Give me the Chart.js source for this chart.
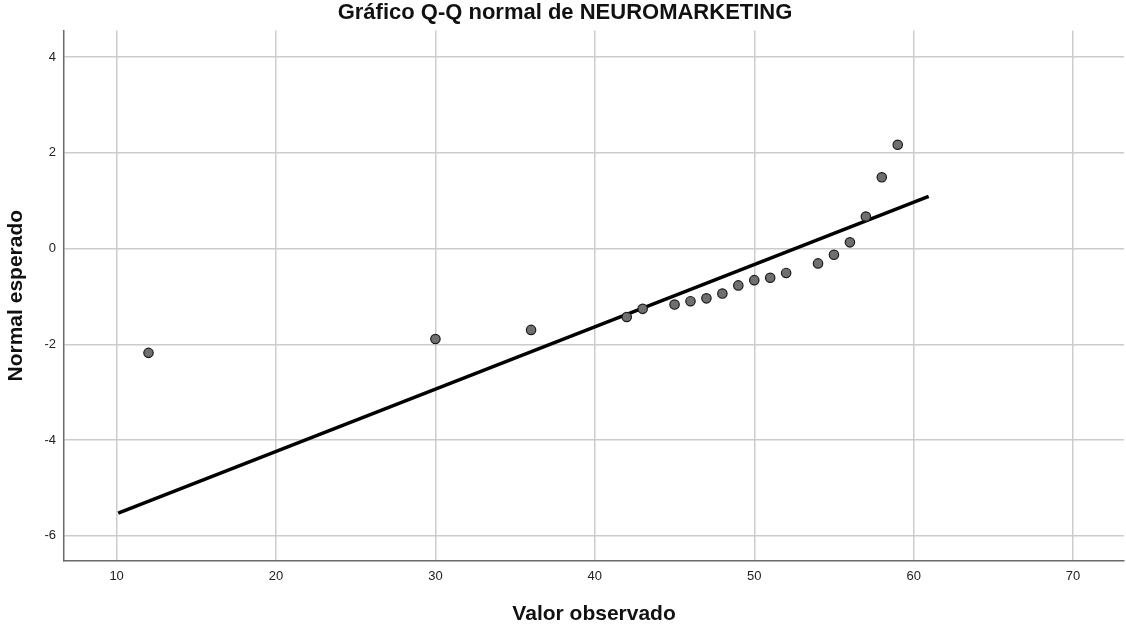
<!DOCTYPE html>
<html lang="es">
<head>
    <meta charset="UTF-8">
    <title>Gráfico Q-Q normal de NEUROMARKETING</title>
    <script src="https://cdn.jsdelivr.net/npm/chart.js"></script>
    <style>
        body {
            margin: 0;
            padding: 0;
            overflow: hidden;
            background-color: #ffffff;
        }

        #qqChart {
            display: block;
        }
    </style>
</head>

<body>
    <!-- a bit wider than the window: chart.js keeps a few px free on the right -->
    <canvas id="qqChart" width="1130" height="628"></canvas>

    <script>
        // Observed values and their expected normal quantiles
        const observed = [12, 30, 36, 42, 43, 45, 46, 47, 48, 49, 50, 51, 52, 54, 55, 56, 57, 58, 59];
        const expectedNormal = [-2.18, -1.89, -1.70, -1.43, -1.26, -1.17, -1.10, -1.04, -0.94, -0.77,
            -0.66, -0.61, -0.51, -0.31, -0.13, 0.13, 0.67, 1.49, 2.17];

        // Reference line end points
        const lineX = [10.1, 60.94];
        const lineY = [-5.53, 1.09];

        // Tick values
        const xTicks = [10, 20, 30, 40, 50, 60, 70];
        const yTicks = [-6, -4, -2, 0, 2, 4];

        const points = observed.map((v, i) => ({ x: v, y: expectedNormal[i] }));
        const refLine = lineX.map((v, i) => ({ x: v, y: lineY[i] }));

        const fontFamily = '"Liberation Sans", Arial, sans-serif';

        const ctx = document.getElementById('qqChart').getContext('2d');
        const chart = new Chart(ctx, {
            type: 'scatter',
            data: {
                datasets: [{
                    label: 'Observado',
                    data: points,
                    order: 0,
                    pointRadius: 4.7,
                    pointBackgroundColor: '#6f6f6f',
                    pointBorderColor: '#1a1a1a',
                    pointBorderWidth: 1.2
                },
                {
                    type: 'line',
                    label: 'Referencia',
                    data: refLine,
                    order: 1,
                    borderColor: '#000000',
                    borderWidth: 3.5,
                    pointRadius: 0,
                    fill: false
                }]
            },
            options: {
                responsive: false,
                devicePixelRatio: 1,
                animation: false,
                layout: {
                    padding: { left: 0, right: 0, top: 0, bottom: 0 }
                },
                plugins: {
                    legend: { display: false },
                    tooltip: { enabled: false },
                    title: {
                        display: true,
                        text: 'Gráfico Q-Q normal de NEUROMARKETING',
                        color: '#111111',
                        font: { family: fontFamily, size: 22, weight: 'bold' },
                        padding: { top: 0, bottom: 4 }
                    }
                },
                scales: {
                    x: {
                        type: 'linear',
                        min: 6.7,
                        max: 73.2,
                        afterBuildTicks: (scale) => {
                            scale.ticks = xTicks.map(v => ({ value: v }));
                        },
                        afterFit: (scale) => {
                            scale.height = 67;
                        },
                        ticks: {
                            color: '#222222',
                            padding: 8,
                            font: { family: fontFamily, size: 13 }
                        },
                        grid: {
                            color: '#cccccc',
                            lineWidth: 1.5,
                            drawTicks: false
                        },
                        border: {
                            color: '#6a6a6a',
                            width: 1.5
                        },
                        title: {
                            display: true,
                            text: 'Valor observado',
                            color: '#111111',
                            font: { family: fontFamily, size: 21, weight: 'bold' },
                            padding: { top: 4, bottom: 1.5 }
                        }
                    },
                    y: {
                        type: 'linear',
                        min: -6.53,
                        max: 4.56,
                        afterBuildTicks: (scale) => {
                            scale.ticks = yTicks.map(v => ({ value: v }));
                        },
                        afterFit: (scale) => {
                            scale.width = 64;
                        },
                        ticks: {
                            color: '#222222',
                            padding: 8,
                            font: { family: fontFamily, size: 13 }
                        },
                        grid: {
                            color: '#cccccc',
                            lineWidth: 1.5,
                            drawTicks: false
                        },
                        border: {
                            color: '#6a6a6a',
                            width: 1.5
                        },
                        title: {
                            display: true,
                            text: 'Normal esperado',
                            color: '#111111',
                            font: { family: fontFamily, size: 21, weight: 'bold' },
                            padding: { top: 4, bottom: 4 }
                        }
                    }
                }
            }
        });
    </script>
</body>

</html>
